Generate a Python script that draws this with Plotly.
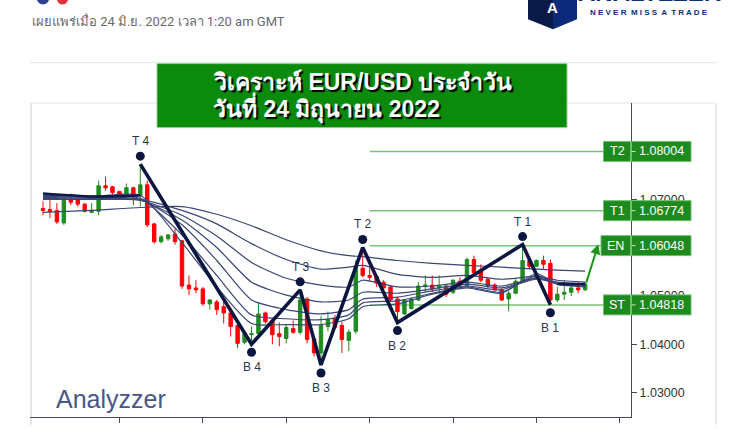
import plotly.graph_objects as go

W, H = 750, 430
PL, PR, PT, PB = 30, 631, 103, 422  # plot area in page pixels


def px(x):
    return (x - PL) / (PR - PL)


def py(y):
    return (PB - y) / (PB - PT)


# ---------------- data ----------------
candle_idx = list(range(79))
opens = [1.0682, 1.0680, 1.0678, 1.0652, 1.0701, 1.0701, 1.0691, 1.0674, 1.0676, 1.0729,
         1.0727, 1.0717, 1.0709, 1.0725, 1.0709, 1.0731, 1.0650, 1.0613, 1.0619, 1.0629,
         1.0615, 1.0523, 1.0517, 1.0515, 1.0484, 1.0488, 1.0478, 1.0465, 1.0439, 1.0404,
         1.0420, 1.0422, 1.0465, 1.0449, 1.0422, 1.0412, 1.0433, 1.0425, 1.0494, 1.0412,
         1.0382, 1.0437, 1.0453, 1.0439, 1.0408, 1.0427, 1.0558, 1.0543, 1.0541, 1.0529,
         1.0519, 1.0494, 1.0463, 1.0474, 1.0492, 1.0521, 1.0523, 1.0517, 1.0521, 1.0508,
         1.0531, 1.0521, 1.0576, 1.0554, 1.0535, 1.0523, 1.0513, 1.0494, 1.0506, 1.0529,
         1.0574, 1.0562, 1.0574, 1.0568, 1.0492, 1.0504, 1.0508, 1.0517, 1.0513]
highs = [1.0697, 1.0707, 1.0693, 1.0707, 1.0713, 1.0707, 1.0693, 1.0693, 1.0740, 1.0748,
         1.0729, 1.0719, 1.0734, 1.0727, 1.0774, 1.0740, 1.0652, 1.0627, 1.0629, 1.0641,
         1.0617, 1.0543, 1.0533, 1.0519, 1.0494, 1.0492, 1.0488, 1.0468, 1.0447, 1.0427,
         1.0437, 1.0486, 1.0468, 1.0453, 1.0445, 1.0441, 1.0449, 1.0513, 1.0498, 1.0416,
         1.0459, 1.0468, 1.0461, 1.0447, 1.0431, 1.0574, 1.0601, 1.0560, 1.0545, 1.0533,
         1.0523, 1.0498, 1.0494, 1.0498, 1.0529, 1.0543, 1.0543, 1.0543, 1.0525, 1.0535,
         1.0539, 1.0580, 1.0584, 1.0566, 1.0539, 1.0527, 1.0517, 1.0511, 1.0535, 1.0607,
         1.0580, 1.0576, 1.0584, 1.0576, 1.0519, 1.0533, 1.0523, 1.0529, 1.0529]
lows = [1.0668, 1.0662, 1.0650, 1.0648, 1.0689, 1.0686, 1.0674, 1.0672, 1.0668, 1.0719,
        1.0711, 1.0707, 1.0707, 1.0689, 1.0686, 1.0643, 1.0609, 1.0609, 1.0615, 1.0607,
        1.0515, 1.0502, 1.0506, 1.0480, 1.0472, 1.0461, 1.0443, 1.0416, 1.0392, 1.0400,
        1.0400, 1.0420, 1.0443, 1.0400, 1.0396, 1.0402, 1.0422, 1.0420, 1.0402, 1.0375,
        1.0357, 1.0427, 1.0431, 1.0382, 1.0386, 1.0422, 1.0539, 1.0531, 1.0519, 1.0513,
        1.0488, 1.0445, 1.0461, 1.0472, 1.0490, 1.0508, 1.0508, 1.0504, 1.0498, 1.0504,
        1.0519, 1.0519, 1.0545, 1.0529, 1.0517, 1.0508, 1.0490, 1.0468, 1.0504, 1.0527,
        1.0556, 1.0560, 1.0556, 1.0482, 1.0488, 1.0492, 1.0500, 1.0506, 1.0511]
closes = [1.0678, 1.0676, 1.0654, 1.0699, 1.0695, 1.0691, 1.0676, 1.0678, 1.0729, 1.0725,
          1.0715, 1.0709, 1.0725, 1.0711, 1.0731, 1.0648, 1.0613, 1.0623, 1.0627, 1.0613,
          1.0521, 1.0515, 1.0513, 1.0484, 1.0492, 1.0472, 1.0465, 1.0437, 1.0402, 1.0422,
          1.0422, 1.0463, 1.0447, 1.0420, 1.0416, 1.0435, 1.0425, 1.0492, 1.0410, 1.0382,
          1.0439, 1.0451, 1.0435, 1.0410, 1.0425, 1.0560, 1.0543, 1.0539, 1.0527, 1.0517,
          1.0492, 1.0468, 1.0492, 1.0494, 1.0521, 1.0523, 1.0515, 1.0521, 1.0504, 1.0533,
          1.0523, 1.0576, 1.0549, 1.0533, 1.0521, 1.0513, 1.0492, 1.0506, 1.0531, 1.0574,
          1.0562, 1.0574, 1.0566, 1.0492, 1.0504, 1.0508, 1.0517, 1.0513, 1.0525]

# moving-average style lines, read at sample candles
ma_idx = [0, 7, 14, 20, 25, 30, 35, 40, 44, 46, 51, 56, 61, 66, 71, 74, 78]
ma_slow1 = [1.0674, 1.0678, 1.0684, 1.0686, 1.0670, 1.0646, 1.0617, 1.0594, 1.0584, 1.0582,
            1.0574, 1.0568, 1.0564, 1.0560, 1.0556, 1.0554, 1.0552]
ma_slow2 = [1.0701, 1.0701, 1.0701, 1.0678, 1.0650, 1.0609, 1.0576, 1.0556, 1.0560, 1.0564,
            1.0545, 1.0539, 1.0543, 1.0535, 1.0541, 1.0533, 1.0529]
ma_mid1 = [1.0703, 1.0701, 1.0699, 1.0668, 1.0625, 1.0570, 1.0537, 1.0523, 1.0519, 1.0533,
           1.0519, 1.0521, 1.0529, 1.0521, 1.0537, 1.0529, 1.0525]
ma_mid2 = [1.0705, 1.0703, 1.0699, 1.0658, 1.0601, 1.0529, 1.0502, 1.0488, 1.0492, 1.0508,
           1.0506, 1.0515, 1.0525, 1.0517, 1.0535, 1.0527, 1.0523]
ma_fast1 = [1.0707, 1.0705, 1.0701, 1.0648, 1.0574, 1.0492, 1.0472, 1.0463, 1.0472, 1.0494,
            1.0498, 1.0511, 1.0521, 1.0513, 1.0539, 1.0525, 1.0521]
ma_fast2 = [1.0709, 1.0707, 1.0703, 1.0627, 1.0543, 1.0461, 1.0453, 1.0451, 1.0461, 1.0486,
            1.0490, 1.0506, 1.0519, 1.0508, 1.0543, 1.0525, 1.0519]
ma_fast3 = [1.0713, 1.0707, 1.0709, 1.0611, 1.0519, 1.0443, 1.0441, 1.0441, 1.0453, 1.0478,
            1.0484, 1.0504, 1.0517, 1.0506, 1.0547, 1.0525, 1.0525]

# zigzag pivots
pivot_idx = [14, 30, 37, 40, 46, 51, 69, 73]
pivot_type = ["T", "B", "T", "B", "T", "B", "T", "B"]
pivot_labels = ["T 4", "B 4", "T 3", "B 3", "T 2", "B 2", "T 1", "B 1"]

# trade levels
level_names = ["T2", "T1", "EN", "ST"]
level_values = [1.08004, 1.06774, 1.06048, 1.04818]
level_start = 47
level_end = 80.6

y_ticks = [1.03, 1.04, 1.05, 1.07]
x_ticks = [11, 23, 35, 47, 59, 71, 83]

# ---------------- figure ----------------
NAVY = "#0b1640"
MA_COL = "#3b4675"
GREEN = "#1e8c1e"
RED = "#ff0000"
FONT = "Liberation Sans, Arial"

fig = go.Figure()

for vals in [ma_slow1, ma_slow2, ma_mid1, ma_mid2, ma_fast1, ma_fast2, ma_fast3]:
    fig.add_trace(go.Scatter(x=ma_idx, y=vals, mode="lines",
                             line=dict(color=MA_COL, width=1.2, shape="spline", smoothing=0.6),
                             hoverinfo="skip", showlegend=False))
# bold stretches of the fastest line (left and right ends)
for sl in [slice(0, 3), slice(15, 17)]:
    fig.add_trace(go.Scatter(x=ma_idx[sl], y=ma_fast3[sl], mode="lines",
                             line=dict(color="#10194a", width=2.6, shape="spline", smoothing=0.6),
                             hoverinfo="skip", showlegend=False))

fig.add_trace(go.Candlestick(
    x=candle_idx, open=opens, high=highs, low=lows, close=closes,
    increasing=dict(line=dict(color=GREEN, width=1), fillcolor=GREEN),
    decreasing=dict(line=dict(color=RED, width=1), fillcolor=RED),
    whiskerwidth=0, showlegend=False))

piv_y = [highs[i] if t == "T" else lows[i] for i, t in zip(pivot_idx, pivot_type)]
fig.add_trace(go.Scatter(x=pivot_idx, y=piv_y, mode="lines",
                         line=dict(color=NAVY, width=3.6), hoverinfo="skip", showlegend=False))

shapes = []
annotations = []

# level lines
LEVEL_LINE = "#79c379"
for name, v in zip(level_names, level_values):
    end = level_end - (0.3 if name == "EN" else 0)
    shapes.append(dict(type="line", xref="x", yref="y", x0=level_start, x1=end, y0=v, y1=v,
                       line=dict(color=LEVEL_LINE, width=1.5), layer="below"))

# pivot dots and labels
for i, t, lab, v in zip(pivot_idx, pivot_type, pivot_labels, piv_y):
    s = 1 if t == "T" else -1
    shapes.append(dict(type="circle", xref="x", yref="y", xsizemode="pixel", ysizemode="pixel",
                       xanchor=i, yanchor=v, x0=-4.5, x1=4.5,
                       y0=s * 3.5, y1=s * 12.5, fillcolor=NAVY, line=dict(width=0)))
    annotations.append(dict(x=i, y=v, xref="x", yref="y", text=lab, showarrow=False,
                            xanchor="center", yanchor="middle",
                            yshift=s * 23, font=dict(size=12, color="#2b3552", family=FONT)))

# arrow to entry
annotations.append(dict(x=79.9, y=level_values[2] + 0.0003, ax=candle_idx[-1] + 0.1,
                        ay=closes[-1], xref="x", yref="y", axref="x", ayref="y",
                        showarrow=True, arrowhead=2, arrowsize=1, arrowwidth=2,
                        arrowcolor="#199619", text=""))

# right-side level boxes
BOX = "#1e8a1e"
for name, v in zip(level_names, level_values):
    left = 601 if name == "EN" else 603.5
    for x0, x1 in [(left, 630.5), (631.5, 691)]:
        shapes.append(dict(type="rect", xref="paper", x0=px(x0), x1=px(x1), yref="y",
                           ysizemode="pixel", yanchor=v, y0=-10, y1=10,
                           fillcolor=BOX, line=dict(color="#6fbf6f", width=1), layer="above"))
    annotations.append(dict(x=px((left + 630.5) / 2), y=v, xref="paper", yref="y", text=name,
                            showarrow=False, xanchor="center", yanchor="middle",
                            font=dict(size=12.5, color="white", family=FONT)))
    annotations.append(dict(x=px(661.5), y=v, xref="paper", yref="y", text=f"{v:.5f}",
                            showarrow=False, xanchor="center", yanchor="middle",
                            font=dict(size=12.5, color="white", family=FONT)))
    shapes.append(dict(type="line", xref="paper", x0=px(631.5), x1=px(635.5), yref="y",
                       y0=v, y1=v, line=dict(color="#dddddd", width=1), layer="above"))

# page frame lines
for y in [62, 103]:
    shapes.append(dict(type="line", xref="paper", yref="paper", x0=px(30), x1=px(716),
                       y0=py(y), y1=py(y), line=dict(color="#e3e3e3", width=1), layer="below"))
shapes.append(dict(type="line", xref="paper", yref="paper", x0=px(31), x1=px(31),
                   y0=py(103), y1=py(430), line=dict(color="#e6e6e6", width=2), layer="below"))
shapes.append(dict(type="line", xref="paper", yref="paper", x0=px(716), x1=px(716),
                   y0=py(103), y1=py(430), line=dict(color="#e6e6e6", width=1.5), layer="below"))

# title box
shapes.append(dict(type="rect", xref="paper", yref="paper", x0=px(157), x1=px(567),
                   y0=py(128), y1=py(63), fillcolor="#0b8a0b",
                   line=dict(color="#8fd08f", width=1), layer="above"))
for txt, yy in [("<b>วิเคราะห์ EUR/USD ประจำวัน</b>", 82), ("<b>วันที่ 24 มิถุนายน 2022</b>", 108)]:
    annotations.append(dict(x=px(211), y=py(yy), xref="paper", yref="paper", xanchor="left",
                            yanchor="middle", align="left", showarrow=False, text=txt,
                            font=dict(size=23, color="white", family=FONT,
                                      shadow="2px 2px 1px #000")))

# header text
annotations.append(dict(x=px(30), y=py(20), xref="paper", yref="paper", xanchor="left",
                        yanchor="middle", showarrow=False,
                        text="เผยแพร่เมื่อ 24 มิ.ย. 2022 เวลา 1:20 am GMT",
                        font=dict(size=13, color="#6a6a6a", family="Roboto, Liberation Sans")))

# watermark
annotations.append(dict(x=px(54), y=py(404), xref="paper", yref="paper", xanchor="left",
                        yanchor="middle", showarrow=False, text="Analyzzer",
                        font=dict(size=25, color="#4a5688", family=FONT)))

# logo
shapes.append(dict(type="path", xref="paper", yref="paper",
                   path=f"M {px(528)},{py(-5)} L {px(553)},{py(-5)} L {px(553)},{py(28)} "
                        f"L {px(528)},{py(18)} Z",
                   fillcolor="#0a1a48", line=dict(width=0)))
shapes.append(dict(type="path", xref="paper", yref="paper",
                   path=f"M {px(553)},{py(-5)} L {px(577)},{py(-5)} L {px(577)},{py(18)} "
                        f"L {px(553)},{py(28)} Z",
                   fillcolor="#0c2a7a", line=dict(width=0)))
annotations.append(dict(x=px(552), y=py(6), xref="paper", yref="paper", showarrow=False,
                        xanchor="center", yanchor="middle",
                        text="<b>A</b>", font=dict(size=15, color="white", family=FONT)))
annotations.append(dict(x=px(649), y=py(11), xref="paper", yref="paper", showarrow=False,
                        xanchor="center", yanchor="middle",
                        text="<b>N E V E R  M I S S  A  T R A D E</b>",
                        font=dict(size=8, color="#0c2f7a", family=FONT)))
annotations.append(dict(x=px(649), y=py(-9), xref="paper", yref="paper", showarrow=False,
                        xanchor="center", yanchor="middle",
                        text="<b>ANALYZZER</b>",
                        font=dict(size=24, color="#0c2f7a", family=FONT)))
# flags (top-left icon, cut off)
shapes.append(dict(type="circle", xref="paper", yref="paper", x0=px(37), x1=px(49),
                   y0=py(3), y1=py(-9), fillcolor="#2b3f93", line=dict(width=0)))
shapes.append(dict(type="circle", xref="paper", yref="paper", x0=px(57), x1=px(68),
                   y0=py(3), y1=py(-8), fillcolor="#e2333d", line=dict(width=0)))

fig.update_layout(
    width=W, height=H,
    margin=dict(l=PL, r=W - PR, t=PT, b=H - PB, pad=0),
    paper_bgcolor="white", plot_bgcolor="white",
    showlegend=False,
    shapes=shapes, annotations=annotations,
    xaxis=dict(range=[-1.87, 84.6], showgrid=False, zeroline=False, showline=True,
               linecolor="#444a5a", linewidth=1, ticks="outside", ticklen=5,
               tickcolor="#444a5a", tickvals=x_ticks, showticklabels=False,
               rangeslider=dict(visible=False), fixedrange=True),
    yaxis=dict(range=[1.0249, 1.0901], side="right", showgrid=False, zeroline=False,
               showline=True, linecolor="#444a5a", linewidth=1, ticks="outside",
               ticklen=5, tickcolor="#444a5a", tickvals=y_ticks,
               ticktext=[f"{v:.5f}" for v in y_ticks],
               tickfont=dict(size=12.5, color="#333", family=FONT),
               fixedrange=True),
)

fig.write_html("out.html", config={"displayModeBar": False},
               post_script="document.body.style.margin='0';document.body.style.overflow='hidden';")
